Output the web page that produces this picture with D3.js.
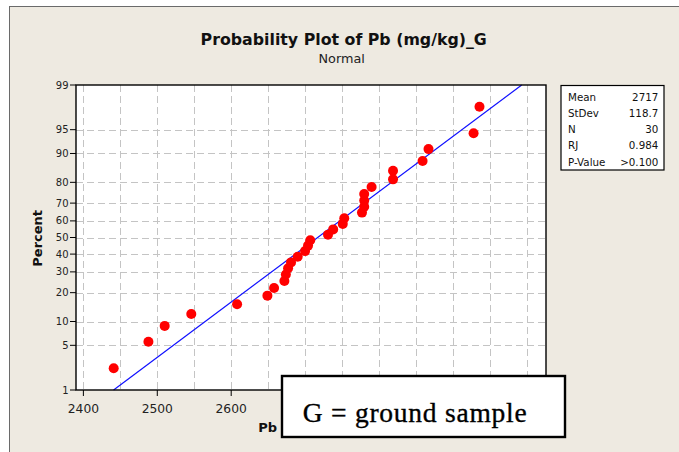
<!DOCTYPE html>
<html>
<head>
<meta charset="utf-8">
<script src="https://cdn.jsdelivr.net/npm/d3@7"></script>
<style>
  html, body { margin: 0; padding: 0; background: #ffffff; }
  svg { display: block; }
</style>
</head>
<body>
<svg id="chart" width="679" height="452"></svg>
<script>
// ---- data ----
const pbValues = [2441, 2488, 2510, 2546, 2608, 2649, 2658, 2672, 2674, 2677,
                  2681, 2690, 2700, 2704, 2707, 2731, 2738, 2751, 2753, 2777,
                  2780, 2780, 2780, 2790, 2819, 2819, 2859, 2867, 2928, 2936];
const percents = [2.30, 5.59, 8.88, 12.17, 15.46, 18.75, 22.04, 25.33, 28.62, 31.91,
                  35.20, 38.49, 41.78, 45.07, 48.36, 51.64, 54.93, 58.22, 61.51, 64.80,
                  68.09, 71.38, 74.67, 77.96, 81.25, 84.54, 87.83, 91.12, 94.41, 97.70];
const yTicks = [1, 5, 10, 20, 30, 40, 50, 60, 70, 80, 90, 95, 99];
const xTicks = [2400, 2500, 2600, 2700, 2800, 2900, 3000];
const xTickLabels = ["2400", "2500", "2600"];   // the rest are hidden under the note box
const xGrid = [2400, 2450, 2500, 2550, 2600, 2650, 2700, 2750, 2800, 2850, 2900, 2950, 3000];
const statLabels = ["Mean", "StDev", "N", "RJ", "P-Value"];
const statValues = ["2717", "118.7", "30", "0.984", ">0.100"];
const fitMean = 2717, fitSD = 118.7;
const titleText = "Probability Plot of Pb (mg/kg)_G";
const subtitleText = "Normal";
const xLabel = "Pb";
const yLabel = "Percent";
const noteText = "G = ground sample";

// inverse normal CDF (Acklam)
function probit(p) {
  const a = [-3.969683028665376e+01, 2.209460984245205e+02, -2.759285104469687e+02, 1.383577518672690e+02, -3.066479806614716e+01, 2.506628277459239e+00];
  const b = [-5.447609879822406e+01, 1.615858368580409e+02, -1.556989798598866e+02, 6.680131188771972e+01, -1.328068155288572e+01];
  const c = [-7.784894002430293e-03, -3.223964580411365e-01, -2.400758277161838e+00, -2.549732539343734e+00, 4.374664141464968e+00, 2.938163982698783e+00];
  const d = [7.784695709041462e-03, 3.224671290700398e-01, 2.445134137142996e+00, 3.754408661907416e+00];
  const pl = 0.02425;
  let q, r;
  if (p < pl) { q = Math.sqrt(-2 * Math.log(p));
    return (((((c[0]*q+c[1])*q+c[2])*q+c[3])*q+c[4])*q+c[5]) / ((((d[0]*q+d[1])*q+d[2])*q+d[3])*q+1); }
  if (p > 1 - pl) { q = Math.sqrt(-2 * Math.log(1 - p));
    return -(((((c[0]*q+c[1])*q+c[2])*q+c[3])*q+c[4])*q+c[5]) / ((((d[0]*q+d[1])*q+d[2])*q+d[3])*q+1); }
  q = p - 0.5; r = q * q;
  return (((((a[0]*r+a[1])*r+a[2])*r+a[3])*r+a[4])*r+a[5])*q / (((((b[0]*r+b[1])*r+b[2])*r+b[3])*r+b[4])*r+1);
}

const svg = d3.select("#chart");
const plot = { left: 76, right: 546, top: 85, bottom: 390 };

// background frame
svg.append("rect").attr("x", 9.5).attr("y", 6.5).attr("width", 800).attr("height", 600)
  .attr("fill", "#eeeae1").attr("stroke", "#6a6a6a").attr("stroke-width", 1);

const x = d3.scaleLinear().domain([2390, 3026]).range([plot.left, plot.right]);
const zLin = d3.scaleLinear().domain([probit(0.01), probit(0.99)]).range([plot.bottom, plot.top]);
const y = p => zLin(probit(p / 100));

// plot area
svg.append("rect").attr("x", plot.left).attr("y", plot.top)
  .attr("width", plot.right - plot.left).attr("height", plot.bottom - plot.top)
  .attr("fill", "#ffffff");

const grid = svg.append("g").attr("stroke", "#c4c4c4").attr("stroke-width", 1).attr("stroke-dasharray", "7,4");
grid.selectAll("line.v").data(xGrid).join("line").attr("class", "v")
  .attr("x1", d => Math.round(x(d)) + 0.5).attr("x2", d => Math.round(x(d)) + 0.5)
  .attr("y1", plot.top).attr("y2", plot.bottom);
grid.selectAll("line.h").data(yTicks.filter(t => t !== 1 && t !== 99)).join("line").attr("class", "h")
  .attr("y1", d => Math.round(y(d)) + 0.5).attr("y2", d => Math.round(y(d)) + 0.5)
  .attr("x1", plot.left).attr("x2", plot.right);

// fitted line
svg.append("line")
  .attr("x1", x(fitMean + fitSD * probit(0.01))).attr("y1", y(1))
  .attr("x2", x(fitMean + fitSD * probit(0.99))).attr("y2", y(99))
  .attr("stroke", "#1010ff").attr("stroke-width", 1.2);

// points
svg.append("g").selectAll("circle").data(pbValues).join("circle")
  .attr("cx", d => x(d)).attr("cy", (d, i) => y(percents[i])).attr("r", 5)
  .attr("fill", "#ff0000");

// border
svg.append("rect").attr("x", plot.left).attr("y", plot.top)
  .attr("width", plot.right - plot.left).attr("height", plot.bottom - plot.top)
  .attr("fill", "none").attr("stroke", "#000").attr("stroke-width", 1.4);

// y axis
const yAxis = svg.append("g").attr("font-family", "DejaVu Sans").attr("font-size", 10).attr("fill", "#222");
yTicks.forEach(t => {
  const yy = y(t);
  yAxis.append("line").attr("x1", plot.left - 6).attr("x2", plot.left).attr("y1", yy).attr("y2", yy)
    .attr("stroke", "#000").attr("stroke-width", 1);
  yAxis.append("text").attr("x", 68.5).attr("y", yy + 3.6).attr("text-anchor", "end").text(t);
});

// x axis
const xAxis = svg.append("g").attr("font-family", "DejaVu Sans").attr("font-size", 12.3).attr("fill", "#222");
xTicks.forEach(t => {
  const xx = x(t);
  xAxis.append("line").attr("x1", xx).attr("x2", xx).attr("y1", plot.bottom).attr("y2", plot.bottom + 6)
    .attr("stroke", "#000").attr("stroke-width", 1);
});
xTickLabels.forEach(l => {
  xAxis.append("text").attr("x", x(+l)).attr("y", 412.7).attr("text-anchor", "middle").text(l);
});

// titles
svg.append("text").attr("x", 343.7).attr("y", 45).attr("text-anchor", "middle")
  .attr("font-family", "DejaVu Sans").attr("font-weight", "bold").attr("font-size", 15.8)
  .attr("fill", "#111").text(titleText);
svg.append("text").attr("x", 341.7).attr("y", 62.5).attr("text-anchor", "middle")
  .attr("font-family", "DejaVu Sans").attr("font-size", 12.8).attr("fill", "#222").text(subtitleText);
svg.append("text").attr("transform", "translate(41.5,238.3) rotate(-90)").attr("text-anchor", "middle")
  .attr("font-family", "DejaVu Sans").attr("font-weight", "bold").attr("font-size", 13)
  .attr("fill", "#111").text(yLabel);
svg.append("text").attr("x", 258.3).attr("y", 431.7)
  .attr("font-family", "DejaVu Sans").attr("font-weight", "bold").attr("font-size", 13)
  .attr("fill", "#111").text(xLabel);

// stats box
const sb = svg.append("g");
sb.append("rect").attr("x", 561).attr("y", 85.5).attr("width", 103).attr("height", 84.5)
  .attr("fill", "#fff").attr("stroke", "#000").attr("stroke-width", 1.2);
statLabels.forEach((s, i) => {
  const by = 100.8 + i * 16.2;
  sb.append("text").attr("x", 568).attr("y", by).attr("font-family", "DejaVu Sans")
    .attr("font-size", 10.3).attr("fill", "#111").text(s);
  sb.append("text").attr("x", 658.3).attr("y", by).attr("text-anchor", "end").attr("font-family", "DejaVu Sans")
    .attr("font-size", 10.3).attr("fill", "#111").text(statValues[i]);
});

// note box
svg.append("rect").attr("x", 282).attr("y", 376).attr("width", 283).attr("height", 61)
  .attr("fill", "#fff").attr("stroke", "#000").attr("stroke-width", 2.4);
svg.append("text").attr("x", 302.7).attr("y", 421.7)
  .attr("font-family", "Liberation Serif").attr("font-size", 27.5).attr("fill", "#000")
  .attr("stroke", "#000").attr("stroke-width", 0.35)
  .attr("textLength", 224).attr("lengthAdjust", "spacing").text(noteText);
</script>
</body>
</html>
